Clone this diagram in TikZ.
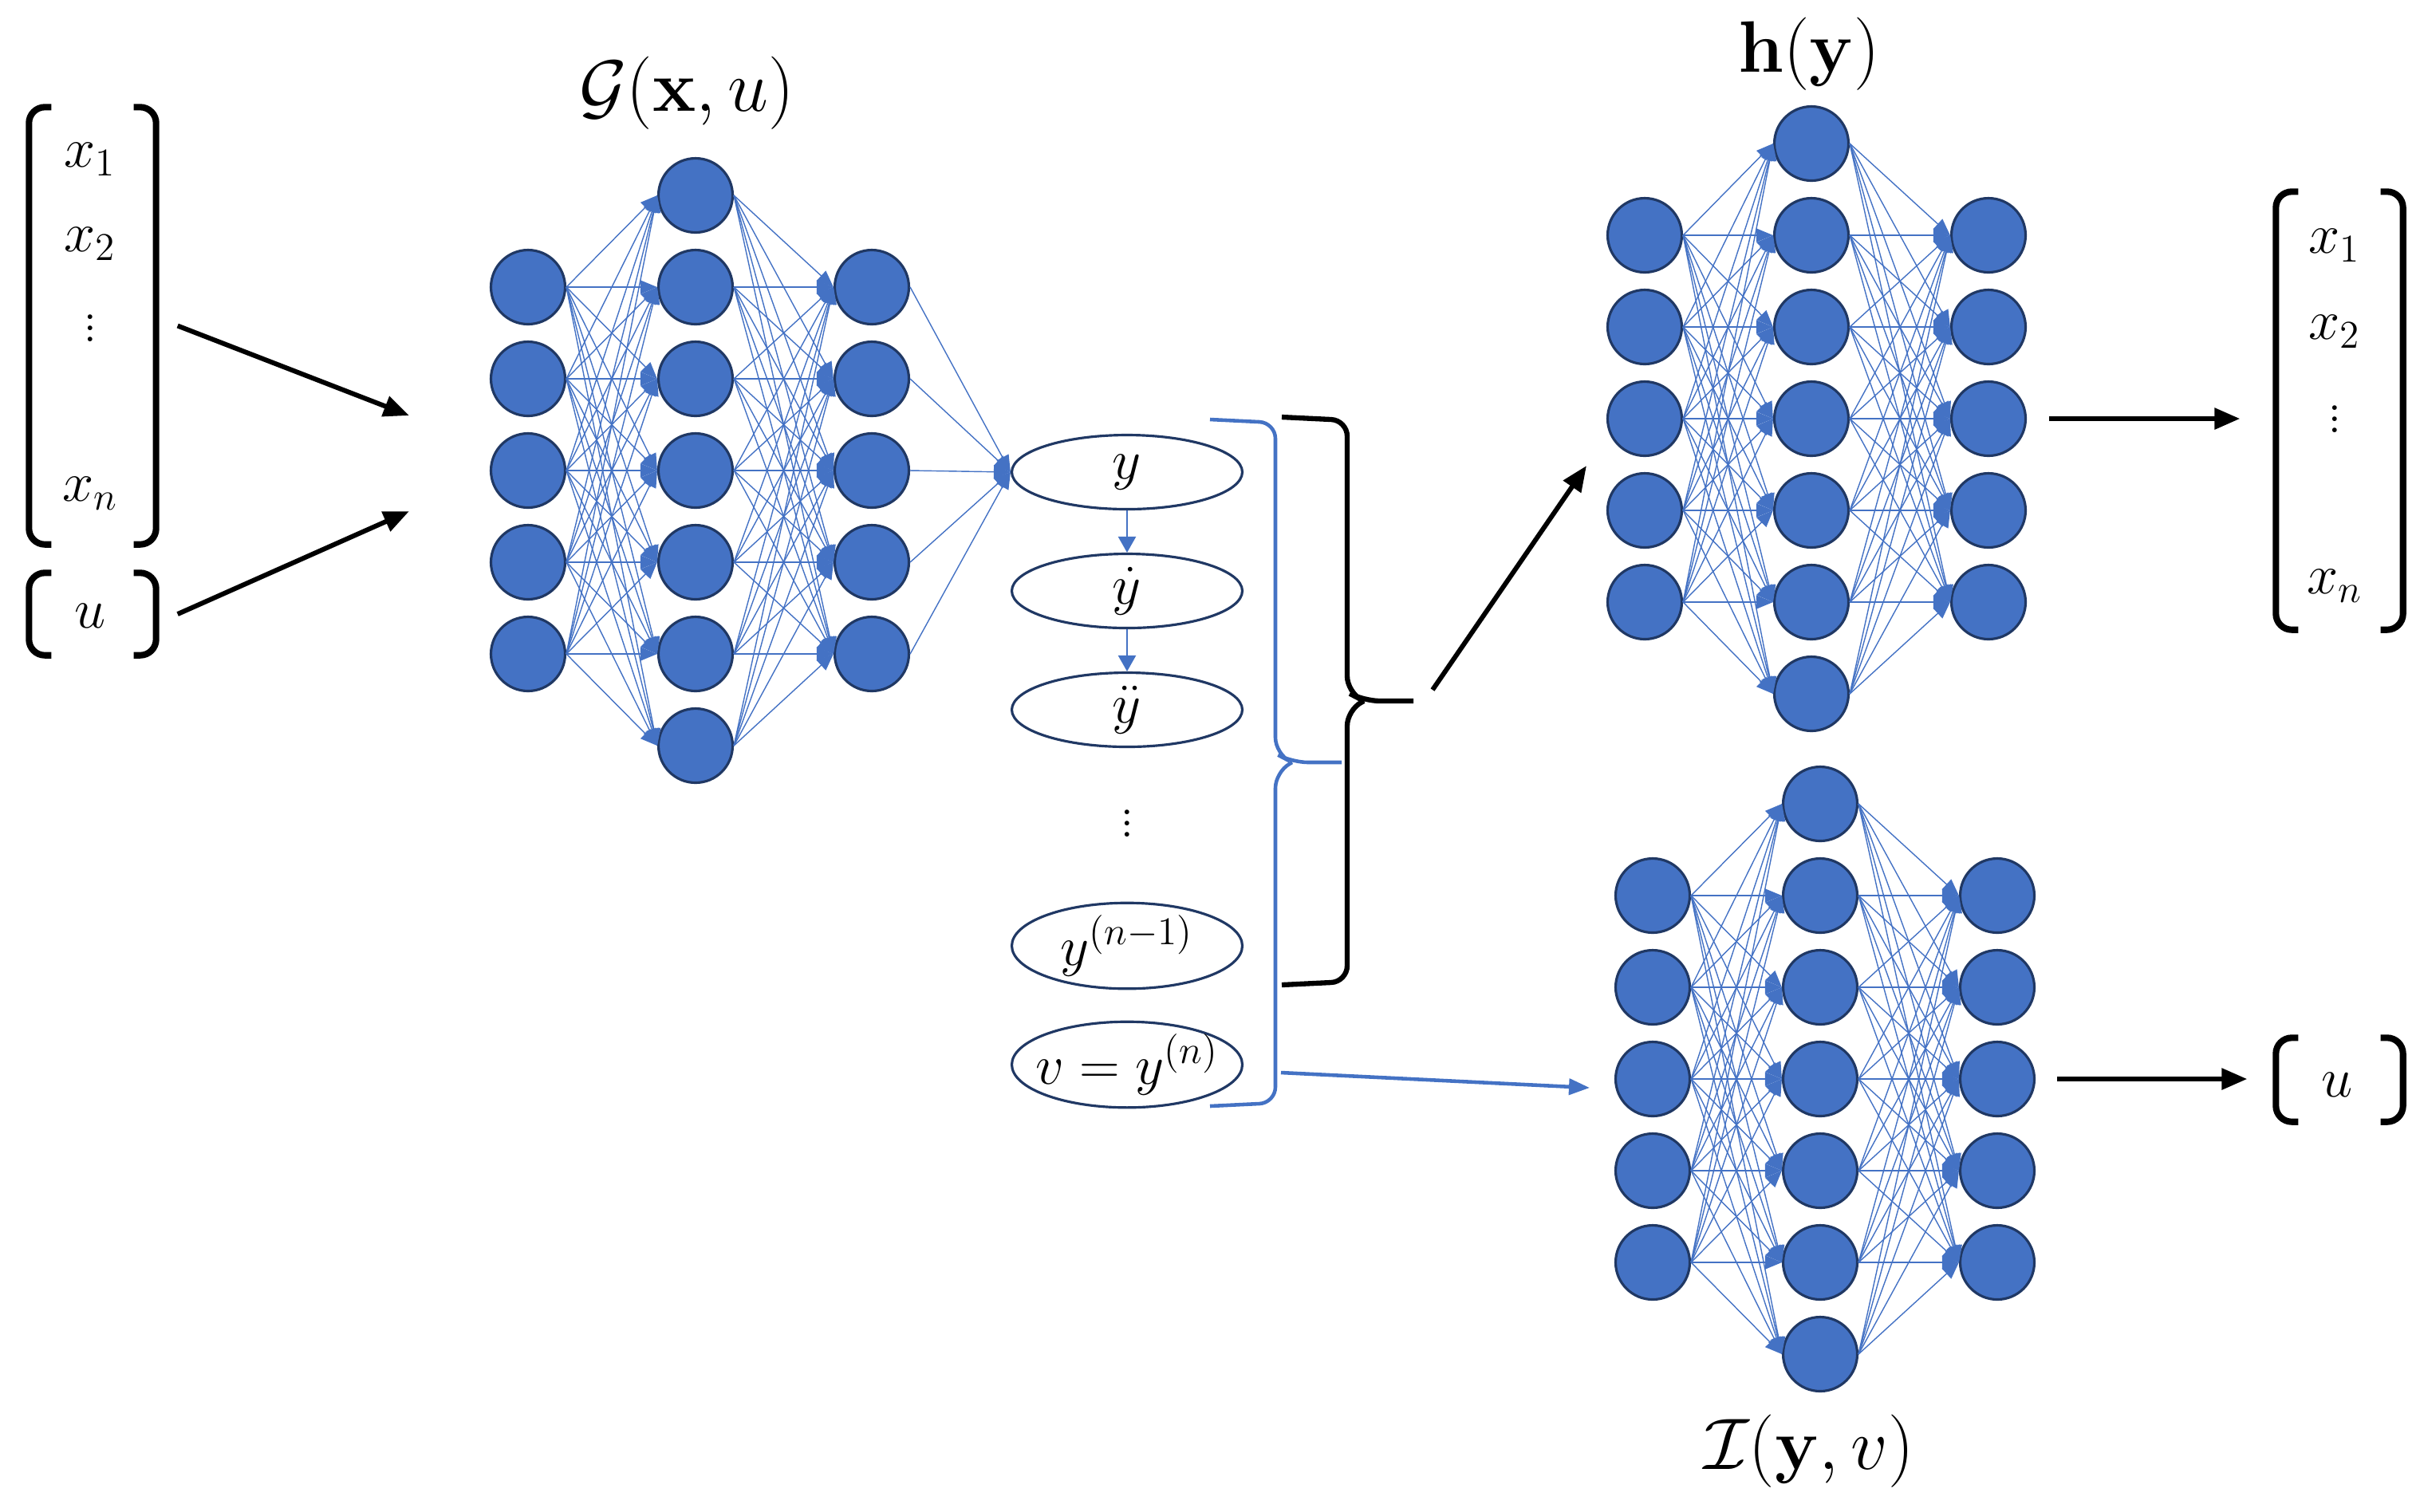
\RequirePackage{fix-cm}
\documentclass[tikz,border=0pt]{standalone}
\usepackage{amsmath}
\usepackage{xcolor}
\definecolor{netblue}{RGB}{68, 114, 196}
\definecolor{netnavy}{RGB}{32, 56, 100}
\usepackage{tikz}
\usetikzlibrary{positioning, shapes.geometric, arrows.meta, calc}

\tikzset{
  neuron/.style={circle, fill=netblue, draw=netnavy, line width=0.9pt,
                 minimum size=0.93cm, inner sep=0pt},
  link/.style={draw=netblue, line width=0.4pt,
               -{Triangle[length=0.21cm, width=0.17cm]}},
  deriv/.style={ellipse, draw=netnavy, line width=0.9pt, fill=white,
                minimum width=2.89cm, minimum height=0.93cm, inner sep=0pt,
                font=\fontsize{20}{24}\selectfont},
  vecbox/.style={inner sep=0pt, minimum width=1.58cm},
  brack/.style={line width=2.3pt, rounded corners=0.2cm},
  flow/.style={line width=1.7pt, -{Triangle[length=0.32cm, width=0.26cm]}},
  smallflow/.style={draw=netblue, line width=0.7pt,
                    -{Triangle[length=0.2cm, width=0.22cm]}},
  title/.style={font=\fontsize{26}{30}\selectfont},
  entry/.style={font=\fontsize{20}{24}\selectfont},
}

\begin{document}
\begin{tikzpicture}
  \useasboundingbox (0,0) rectangle (30.34,-18.95);

  % input vectors
  \node[vecbox, minimum height=5.47cm] (xin) at (1.16,-4.085) {};
  \node[vecbox, minimum height=1.02cm] (uin) at (1.16,-7.70) {};
  \node[entry] (xin1) at (1.13,-2.00) {$x_1$};
  \node[entry] (xin2) at (1.13,-3.06) {$x_2$};
  \node[entry] (xindots) at (1.13,-4.01) {$\vdots$};
  \node[entry] (xinn) at (1.13,-6.19) {$x_n$};
  \node[entry] (uinu) at (1.13,-7.72) {$u$};

  % output vectors
  \node[vecbox, minimum height=5.48cm] (xout) at (29.33,-5.15) {};
  \node[vecbox, minimum height=1.04cm] (uout) at (29.33,-13.54) {};
  \node[entry] (xout1) at (29.27,-3.08) {$x_1$};
  \node[entry] (xout2) at (29.27,-4.16) {$x_2$};
  \node[entry] (xoutdots) at (29.27,-5.15) {$\vdots$};
  \node[entry] (xoutn) at (29.27,-7.35) {$x_n$};
  \node[entry] (uoutu) at (29.30,-13.60) {$u$};

  \foreach \v in {xin, uin, xout, uout} {
    \draw[brack] ([xshift=0.28cm]\v.north west) -- (\v.north west)
      -- (\v.south west) -- ([xshift=0.28cm]\v.south west);
    \draw[brack] ([xshift=-0.28cm]\v.north east) -- (\v.north east)
      -- (\v.south east) -- ([xshift=-0.28cm]\v.south east);
  }

  % the three networks
  \foreach \net/\xa/\xb/\xc/\ymid in {g/6.62/8.72/10.93/5.90,
                                     h/20.62/22.71/24.93/5.25,
                                     i/20.72/22.82/25.04/13.53} {
    \foreach \k in {1,...,5}
      \node[neuron] (\net-a\k) at (\xa, {-\ymid+1.15*(3-\k)}) {};
    \foreach \k in {1,...,7}
      \node[neuron] (\net-b\k) at (\xb, {-\ymid+1.15*(4-\k)}) {};
    \foreach \k in {1,...,5}
      \node[neuron] (\net-c\k) at (\xc, {-\ymid+1.15*(3-\k)}) {};
    \foreach \p in {1,...,5}
      \foreach \q in {1,...,7} {
        \draw[link] (\net-a\p.east) -- (\net-b\q.west);
        \draw[link] (\net-b\q.east) -- (\net-c\p.west);
      }
  }

  \node[title] (gname) at (8.61,-1.17) {$\mathcal{G}(\mathbf{x},u)$};
  \node[title] (hname) at (22.68,-0.68) {$\mathbf{h}(\mathbf{y})$};
  \node[title] (iname) at (22.68,-18.20) {$\mathcal{I}(\mathbf{y},v)$};

  % flat outputs
  \node[deriv] (yzero) at (14.13,-5.92) {$y$};
  \node[deriv] (yone) at (14.13,-7.41) {$\dot{y}$};
  \node[deriv] (ytwo) at (14.13,-8.90) {$\ddot{y}$};
  \node[font=\fontsize{20}{24}\selectfont] (ydots) at (14.13,-10.22) {$\vdots$};
  \node[deriv] (ylast) at (14.13,-11.86) {$y^{(n-1)}$};
  \node[deriv] (vnode) at (14.13,-13.35) {\makebox[0pt]{$v=y^{(n)}$}};

  \foreach \k in {1,...,5}
    \draw[link] (g-c\k.east) -- (yzero.west);
  \draw[smallflow] (yzero) -- (yone);
  \draw[smallflow] (yone) -- (ytwo);

  % braces
  \draw[draw=netblue, line width=1.3pt, rounded corners=0.2cm]
    (15.17,-5.26) -- (15.99,-5.30) -- (15.99,-9.45) -- (16.20,-9.56) -- (16.82,-9.56)
    (16.20,-9.56) -- (15.99,-9.68) -- (15.99,-13.83) -- (15.17,-13.87);
  \draw[line width=1.8pt, rounded corners=0.2cm]
    (16.07,-5.23) -- (16.89,-5.27) -- (16.89,-8.68) -- (17.10,-8.79) -- (17.72,-8.79)
    (17.10,-8.79) -- (16.89,-8.90) -- (16.89,-12.31) -- (16.07,-12.35);

  \coordinate (gin1) at (5.13,-5.21);
  \coordinate (gin2) at (5.13,-6.41);
  \coordinate (hgo) at (17.96,-8.65);
  \coordinate (hin) at (19.89,-5.84);
  \coordinate (vgo) at (16.06,-13.45);
  \coordinate (iin) at (19.93,-13.64);

  \draw[flow] ([xshift=0.27cm]xin.east) -- (gin1);
  \draw[flow] ([xshift=0.27cm]uin.east) -- (gin2);
  \draw[flow] (hgo) -- (hin);
  \draw[draw=netblue, line width=1.3pt, -{Triangle[length=0.26cm, width=0.2cm]}]
    (vgo) -- (iin);
  \draw[flow, shorten <=0.28cm, shorten >=0.45cm] (h-c3.east) -- (h-c3.east -| xout.west);
  \draw[flow, shorten <=0.27cm, shorten >=0.36cm] (i-c3.east) -- (i-c3.east -| uout.west);
\end{tikzpicture}
\end{document}
